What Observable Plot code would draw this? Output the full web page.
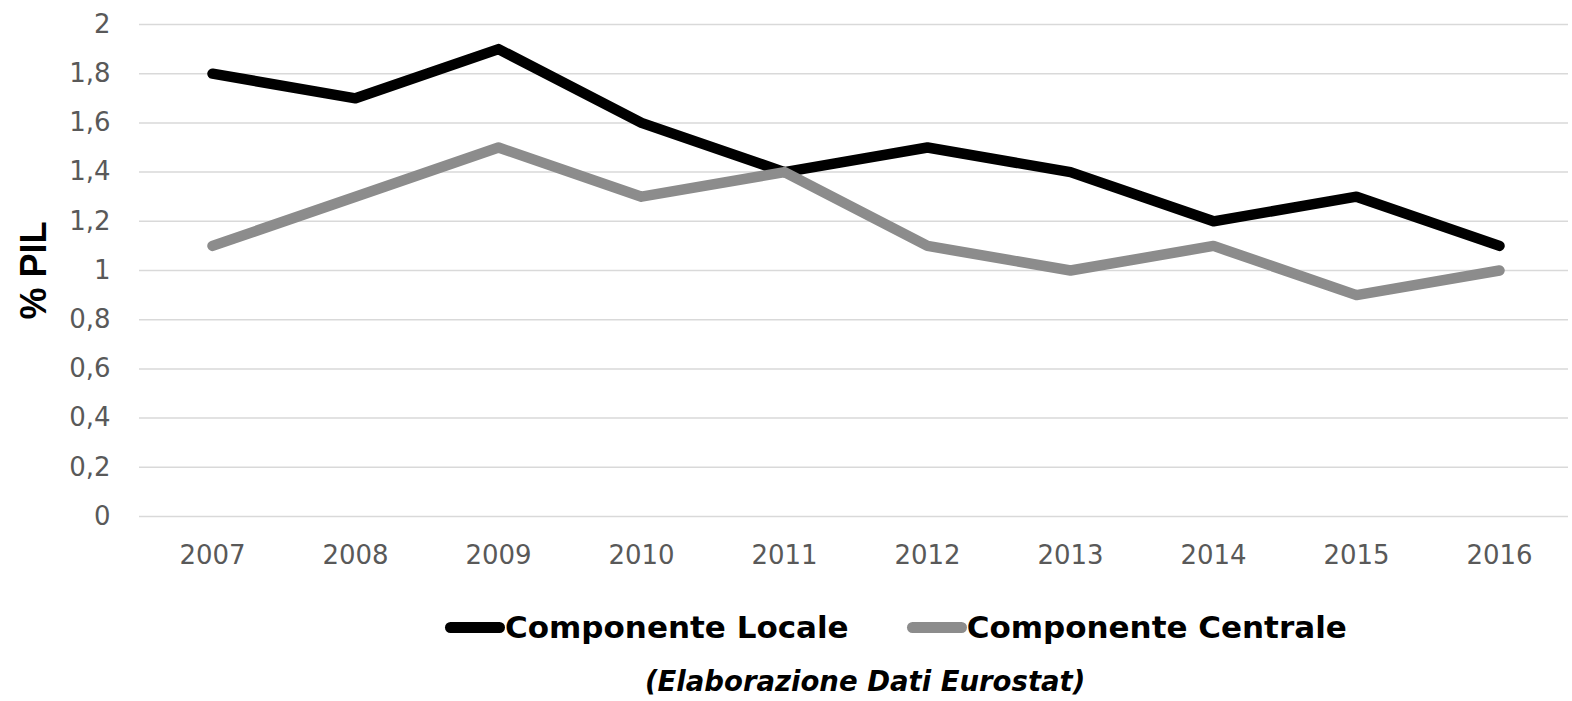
<!DOCTYPE html>
<html>
<head>
<meta charset="utf-8">
<script src="https://cdn.jsdelivr.net/npm/d3@7"></script>
<script src="https://cdn.jsdelivr.net/npm/@observablehq/plot@0.6"></script>
<style>
  html, body { margin: 0; padding: 0; background: #fff; }
  body { width: 1572px; height: 701px; overflow: hidden; position: relative; font-family: "DejaVu Sans", sans-serif; }
  #legend { position: absolute; left: 445px; top: 604px; height: 46px; display: flex; align-items: center; font-weight: bold; font-size: 31px; color: #000; }
  .item { display: flex; align-items: center; }
  .item + .item { margin-left: 58px; }
  .sw { width: 60px; height: 11px; border-radius: 6px; }
  #caption { position: absolute; left: 645px; top: 665px; font-style: italic; font-weight: bold; font-size: 27.5px; color: #000; white-space: nowrap; }
</style>
</head>
<body>
<div id="chart"></div>
<div id="legend"></div>
<div id="caption">(Elaborazione Dati Eurostat)</div>
<script>
const years = ["2007","2008","2009","2010","2011","2012","2013","2014","2015","2016"];
const locale = [1.8, 1.7, 1.9, 1.6, 1.4, 1.5, 1.4, 1.2, 1.3, 1.1];
const centrale = [1.1, 1.3, 1.5, 1.3, 1.4, 1.1, 1.0, 1.1, 0.9, 1.0];
const seriesNames = ["Componente Locale", "Componente Centrale"];
const seriesColors = ["#000000", "#8c8c8c"];
const yTicks = [0, 0.2, 0.4, 0.6, 0.8, 1, 1.2, 1.4, 1.6, 1.8, 2];
const yLabel = "% PIL";

const data = [];
years.forEach((y, i) => data.push({year: y, value: locale[i], series: seriesNames[0]}));
years.forEach((y, i) => data.push({year: y, value: centrale[i], series: seriesNames[1]}));

const fmt = v => String(v).replace(".", ",");

const chart = Plot.plot({
  width: 1572,
  height: 590,
  marginLeft: 139,
  marginRight: 0,
  marginTop: 24,
  marginBottom: 74,
  style: { fontFamily: "'DejaVu Sans', sans-serif", fontSize: "26px", color: "#595959", background: "#fff" },
  x: { type: "point", domain: years, padding: 0.5 },
  y: { domain: [0, 2] },
  color: { domain: seriesNames, range: seriesColors },
  marks: [
    Plot.ruleY(yTicks, { stroke: "#d9d9d9", strokeWidth: 1.5, insetRight: 4 }),
    Plot.axisY(yTicks, { tickSize: 0, tickPadding: 29, tickFormat: fmt, label: null, fontSize: 26, fill: "#595959" }),
    Plot.axisX(years, { tickSize: 0, tickPadding: 29, label: null, fontSize: 26, fill: "#595959" }),
    Plot.text([yLabel], { frameAnchor: "left", textAnchor: "middle", dx: -105, rotate: -90, fontWeight: "bold", fontSize: 36, fontFamily: "'Liberation Sans', Arial, sans-serif", fill: "#000" }),
    Plot.line(data, { x: "year", y: "value", z: "series", stroke: "series", strokeWidth: 10.5, strokeLinecap: "round", strokeLinejoin: "round" })
  ]
});
document.getElementById("chart").appendChild(chart);

const legend = document.getElementById("legend");
seriesNames.forEach((n, i) => {
  const it = document.createElement("div");
  it.className = "item";
  const sw = document.createElement("div");
  sw.className = "sw";
  sw.style.background = seriesColors[i];
  const t = document.createElement("span");
  t.textContent = n;
  it.appendChild(sw);
  it.appendChild(t);
  legend.appendChild(it);
});
</script>
</body>
</html>
